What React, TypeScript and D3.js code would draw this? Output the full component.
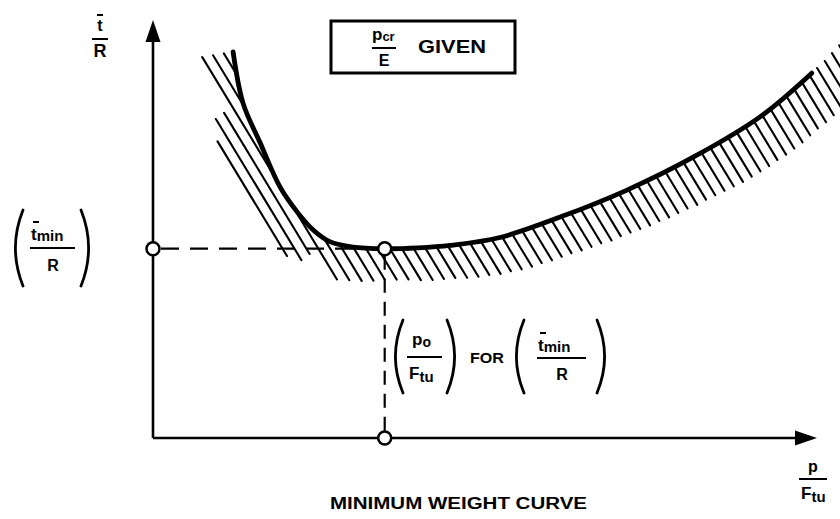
import React, { useMemo } from 'react';
import * as d3 from 'd3';

const W = 840;
const H = 519;

// Minimum-weight curve: x = p/Ftu, y = t/R (arbitrary units 0..100)
const curveX = [12.1, 13.6, 16.2, 19.2, 21.8, 24.2, 26.7, 30.2, 35.0, 40.0, 44.9, 52.4, 61.5, 71.6, 81.6, 91.7, 99.5];
const curveY = [92.8, 80.5, 70.9, 60.3, 54.3, 50.0, 47.2, 45.9, 45.5, 45.7, 46.3, 48.2, 53.1, 59.6, 67.5, 77.2, 87.7];
// hatching continues past the end of the drawn curve
const hatchOnlyX = [104.5];
const hatchOnlyY = [96.0];
// optimum point (p0/Ftu, tmin/R)
const optX = 35.0;
const optY = 45.5;

const boxText = 'GIVEN';
const forText = 'FOR';
const caption = 'MINIMUM WEIGHT CURVE';

const FONT = '"Liberation Sans", Arial, sans-serif';

type P = [number, number];

function sampleCurve(points: P[], line: any): P[] {
  const out: P[] = [];
  let cx = 0, cy = 0;
  const ctx: any = {
    moveTo(x: number, y: number) { out.push([x, y]); cx = x; cy = y; },
    lineTo(x: number, y: number) {
      const n = 20;
      for (let i = 1; i <= n; i++) out.push([cx + (x - cx) * i / n, cy + (y - cy) * i / n]);
      cx = x; cy = y;
    },
    bezierCurveTo(x1: number, y1: number, x2: number, y2: number, x: number, y: number) {
      const n = 40;
      for (let i = 1; i <= n; i++) {
        const t = i / n, m = 1 - t;
        out.push([
          m * m * m * cx + 3 * m * m * t * x1 + 3 * m * t * t * x2 + t * t * t * x,
          m * m * m * cy + 3 * m * m * t * y1 + 3 * m * t * t * y2 + t * t * t * y,
        ]);
      }
      cx = x; cy = y;
    },
    quadraticCurveTo() {},
    closePath() {},
    arc() {},
    rect() {},
  };
  line.context(ctx)(points);
  line.context(null);
  return out;
}

function Paren({ x, y1, y2, left }: { x: number; y1: number; y2: number; left: boolean }) {
  const b = 8;
  const xe = left ? x + b : x - b;
  const xm = left ? x - b * 0.9 : x + b * 0.9;
  const ym = (y1 + y2) / 2;
  return <path d={`M${xe},${y1} Q${xm},${ym} ${xe},${y2}`} fill="none" stroke="#000" strokeWidth={2.8} strokeLinecap="round" />;
}

export default function App() {
  const x = d3.scaleLinear().domain([0, 100]).range([153, 815]);
  const y = d3.scaleLinear().domain([0, 100]).range([438, 22]);

  const { curvePath, hatches } = useMemo(() => {
    const pts: P[] = curveX.map((v, i) => [v, curveY[i]]);
    const ext: P[] = pts.concat(hatchOnlyX.map((v, i) => [v, hatchOnlyY[i]] as P));
    const line = d3.line<P>().x(d => x(d[0])).y(d => y(d[1])).curve(d3.curveCatmullRom.alpha(0.5));
    const curvePath = line(pts) as string;

    const s = sampleCurve(ext, line);
    const n = s.length;
    const tx: number[] = [], ty: number[] = [], nx: number[] = [], ny: number[] = [], w: number[] = [];
    for (let k = 0; k < n; k++) {
      const a = s[Math.max(0, k - 1)], b = s[Math.min(n - 1, k + 1)];
      let dx = b[0] - a[0], dy = b[1] - a[1];
      const L = Math.hypot(dx, dy) || 1;
      dx /= L; dy /= L;
      tx.push(dx); ty.push(dy);
      nx.push(-dy); ny.push(dx);
      const px = s[k][0];
      let ww;
      if (px < 300) ww = 38;
      else if (px < 390) ww = 38 + (31 - 38) * (px - 300) / 90;
      else if (px < 720) ww = 31 + (46 - 31) * (px - 390) / 330;
      else ww = 46;
      w.push(ww);
    }

    const ang = Math.atan(1.65);
    const ux = Math.cos(ang), uy = Math.sin(ang);
    const vx = -uy, vy = ux;
    const box: P[] = [[140, 20], [850, 20], [850, 330], [140, 330]];
    const cs = box.map(p => p[0] * vx + p[1] * vy);
    const ts = box.map(p => p[0] * ux + p[1] * uy);
    const step = 10.2;
    const c0 = 245 * vx + 108 * vy;
    const cmin = Math.min(...cs), cmax = Math.max(...cs);
    const tmin = Math.min(...ts), tmax = Math.max(...ts);
    const Lmax = 165;
    const hatches: [P, P][] = [];
    const kStart = Math.floor((cmin - c0) / step);
    for (let kk = kStart; c0 + kk * step <= cmax; kk++) {
      const c = c0 + kk * step;
      let seg: { p: P; d: number }[] = [];
      const flush = () => {
        if (seg.length > 3) {
          let i = 0, j = seg.length - 1;
          while (j - i > Lmax) { if (seg[i].d > seg[j].d) i++; else j--; }
          hatches.push([seg[i].p, seg[j].p]);
        }
        seg = [];
      };
      for (let t = tmin; t <= tmax; t += 1) {
        const px = c * vx + t * ux, py = c * vy + t * uy;
        let inside = false, dist = 0;
        if (px > 140 && px < 860 && py > 20 && py < 340) {
          let best = Infinity, bk = 0;
          for (let k = 0; k < n; k++) {
            const ddx = px - s[k][0], ddy = py - s[k][1];
            const d2 = ddx * ddx + ddy * ddy;
            if (d2 < best) { best = d2; bk = k; }
          }
          const rx = px - s[bk][0], ry = py - s[bk][1];
          const nrm = rx * nx[bk] + ry * ny[bk];
          const along = rx * tx[bk] + ry * ty[bk];
          inside = nrm > 0 && nrm < w[bk] && !(bk === 0 && along < 0);
          dist = Math.sqrt(best);
        }
        if (inside) seg.push({ p: [px, py], d: dist });
        else if (seg.length) flush();
      }
      flush();
    }
    return { curvePath, hatches };
  }, []);

  const ox = x(optX), oy = y(optY);
  const x0 = x(0), y0 = y(0);
  const yTop = y(100), xEnd = x(100);
  const bold = { fontFamily: FONT, fontWeight: 700 as const, fill: '#000' };

  return (
    <svg width={W} height={H} style={{ position: 'absolute', left: 0, top: 0, background: '#fff' }}>
      <rect width={W} height={H} fill="#fff" />
      {/* hatching */}
      <g stroke="#000" strokeWidth={2.1} strokeLinecap="round">
        {hatches.map((h, i) => (
          <line key={i} x1={h[0][0]} y1={h[0][1]} x2={h[1][0]} y2={h[1][1]} />
        ))}
      </g>
      {/* curve */}
      <path d={curvePath} fill="none" stroke="#000" strokeWidth={4.8} strokeLinecap="round" />

      {/* axes */}
      <line x1={x0} y1={y0} x2={x0} y2={yTop + 18} stroke="#000" strokeWidth={2.6} />
      <path d={`M${x0},${yTop - 2} L${x0 - 7.5},${yTop + 20} L${x0 + 7.5},${yTop + 20} Z`} fill="#000" />
      <line x1={x0} y1={y0} x2={xEnd - 18} y2={y0} stroke="#000" strokeWidth={2.6} />
      <path d={`M${xEnd + 2},${y0} L${xEnd - 20},${y0 - 7.5} L${xEnd - 20},${y0 + 7.5} Z`} fill="#000" />

      {/* dashed guides */}
      <line x1={x0 + 8} y1={oy} x2={ox - 7} y2={oy} stroke="#000" strokeWidth={2.2} strokeDasharray="18 11" />
      <line x1={ox} y1={oy + 7} x2={ox} y2={y0 - 7} stroke="#000" strokeWidth={2.2} strokeDasharray="14 9" />
      <circle cx={x0} cy={oy} r={6.5} fill="#fff" stroke="#000" strokeWidth={2.5} />
      <circle cx={ox} cy={oy} r={6.5} fill="#fff" stroke="#000" strokeWidth={2.5} />
      <circle cx={ox} cy={y0} r={6.5} fill="#fff" stroke="#000" strokeWidth={2.5} />

      {/* box label */}
      <rect x={331} y={21} width={184} height={52} fill="#fff" stroke="#000" strokeWidth={3} />
      <text x={372} y={40} style={bold} fontSize={17}>p<tspan fontSize={13} dy={1}>cr</tspan></text>
      <line x1={372} y1={48} x2={396} y2={48} stroke="#000" strokeWidth={2} />
      <text x={384} y={66} style={bold} fontSize={16} textAnchor="middle">E</text>
      <text x={418} y={53} style={bold} fontSize={18} textLength={68} lengthAdjust="spacingAndGlyphs">{boxText}</text>

      {/* y-axis label */}
      <line x1={97} y1={15} x2={103} y2={15} stroke="#000" strokeWidth={2} />
      <text x={100} y={31} style={bold} fontSize={16} textAnchor="middle">t</text>
      <line x1={92} y1={39} x2={108} y2={39} stroke="#000" strokeWidth={2} />
      <text x={100} y={57} style={bold} fontSize={18} textAnchor="middle">R</text>

      {/* left label (tmin / R) */}
      <Paren x={15} y1={210} y2={286} left={true} />
      <line x1={33} y1={222} x2={39} y2={222} stroke="#000" strokeWidth={2} />
      <text x={31} y={240} style={bold} fontSize={17}>t<tspan fontSize={15} dy={1}>min</tspan></text>
      <line x1={30} y1={248} x2={75} y2={248} stroke="#000" strokeWidth={2} />
      <text x={53} y={271} style={bold} fontSize={16} textAnchor="middle">R</text>
      <Paren x={89} y1={210} y2={286} left={false} />

      {/* middle label (p0/Ftu) FOR (tmin/R) */}
      <Paren x={395} y1={320} y2={393} left={true} />
      <text x={412} y={345} style={bold} fontSize={17}>p<tspan fontSize={14} dy={2}>o</tspan></text>
      <line x1={407} y1={357} x2={442} y2={357} stroke="#000" strokeWidth={2} />
      <text x={409} y={379} style={bold} fontSize={17}>F<tspan fontSize={15} dy={3}>tu</tspan></text>
      <Paren x={455} y1={320} y2={393} left={false} />
      <text x={470} y={363} style={bold} fontSize={15} textLength={34} lengthAdjust="spacingAndGlyphs">{forText}</text>
      <Paren x={516} y1={320} y2={393} left={true} />
      <line x1={540} y1={333} x2={546} y2={333} stroke="#000" strokeWidth={2} />
      <text x={538} y={351} style={bold} fontSize={17}>t<tspan fontSize={15} dy={1}>min</tspan></text>
      <line x1={537} y1={358} x2={586} y2={358} stroke="#000" strokeWidth={2} />
      <text x={562} y={380} style={bold} fontSize={16} textAnchor="middle">R</text>
      <Paren x={605} y1={320} y2={393} left={false} />

      {/* x-axis label */}
      <text x={813} y={472} style={bold} fontSize={16} textAnchor="middle">p</text>
      <line x1={799} y1={479} x2={827} y2={479} stroke="#000" strokeWidth={2} />
      <text x={801} y={499} style={bold} fontSize={17}>F<tspan fontSize={15} dy={3}>tu</tspan></text>

      {/* caption */}
      <text x={330} y={509} style={bold} fontSize={16} textLength={257} lengthAdjust="spacingAndGlyphs">{caption}</text>
    </svg>
  );
}
